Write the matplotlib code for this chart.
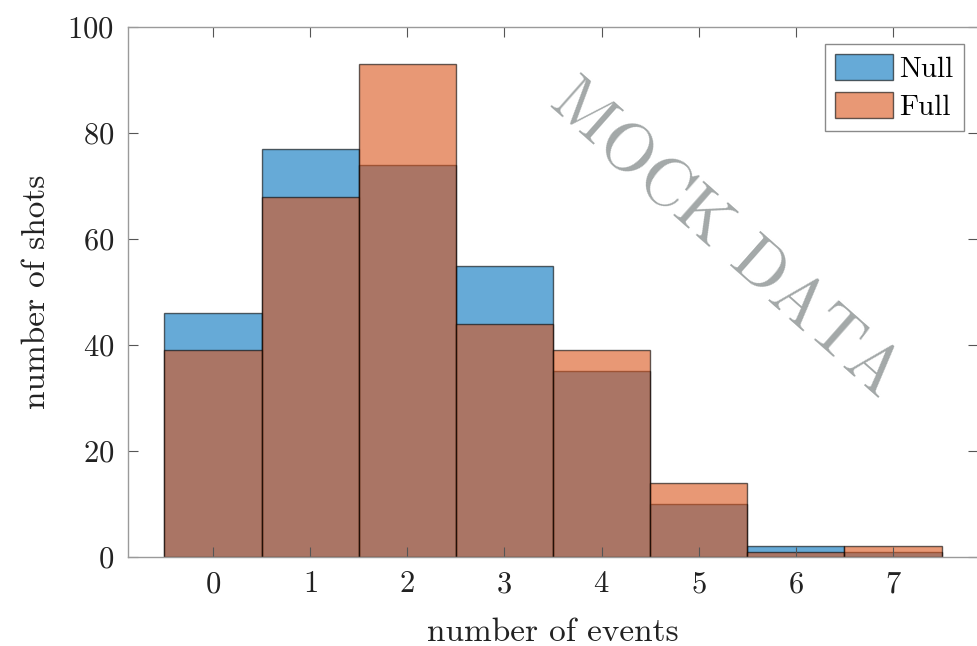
import matplotlib
matplotlib.use("Agg")
import matplotlib.pyplot as plt
import numpy as np

# Event-count histogram for the two models
events = [0, 1, 2, 3, 4, 5, 6, 7]
null_counts = [46, 77, 74, 55, 35, 10, 2, 1]
full_counts = [39, 68, 93, 44, 39, 14, 1, 2]
series_labels = ["Null", "Full"]
yticks = [0, 20, 40, 60, 80, 100]

plt.rcParams["font.family"] = "serif"
plt.rcParams["font.serif"] = ["cmr10"]
plt.rcParams["axes.formatter.use_mathtext"] = True

blue = (0.0, 0.447, 0.741)
orange = (0.850, 0.325, 0.098)
edge = (0.0, 0.0, 0.0, 0.6)

fig = plt.figure(figsize=(9.77, 6.46), dpi=100)
ax = fig.add_axes([0.131, 0.138, 0.870, 0.820])

ax.bar(events, null_counts, width=1.0, color=blue, alpha=0.6,
       edgecolor=edge, linewidth=1.0, label=series_labels[0])
ax.bar(events, full_counts, width=1.0, color=orange, alpha=0.6,
       edgecolor=edge, linewidth=1.0, label=series_labels[1])

ax.set_xlim(-0.875, 7.875)
ax.set_ylim(0, 100)
ax.set_xticks(events)
ax.set_yticks(yticks)

spine_col = "#9a9a9a"
for s in ax.spines.values():
    s.set_color(spine_col)
    s.set_linewidth(1.0)
ax.tick_params(direction="in", length=7, width=0.8, color="#555555",
               labelsize=22, top=True, right=True, pad=10, labelcolor="#222222")

ax.set_xlabel("number of events", fontsize=24, color="#222222", labelpad=14)
ax.set_ylabel("number of shots", fontsize=24, color="#222222", labelpad=12)

leg = ax.legend(loc="upper right", fontsize=21, frameon=True, fancybox=False,
                edgecolor="#8a8a8a", framealpha=1.0, borderpad=0.35,
                handlelength=2.0, handleheight=1.0, handletextpad=0.2,
                labelspacing=0.3, borderaxespad=0.4,
                bbox_to_anchor=(0.997, 0.99))
leg.get_frame().set_linewidth(1.0)

ax.text(0.702, 0.6, "MOCK DATA", transform=ax.transAxes, fontsize=49,
        color="#a3a8a8", rotation=-41.5, ha="center", va="center",
        rotation_mode="anchor", zorder=5)

fig.savefig("out.png", dpi=100)
